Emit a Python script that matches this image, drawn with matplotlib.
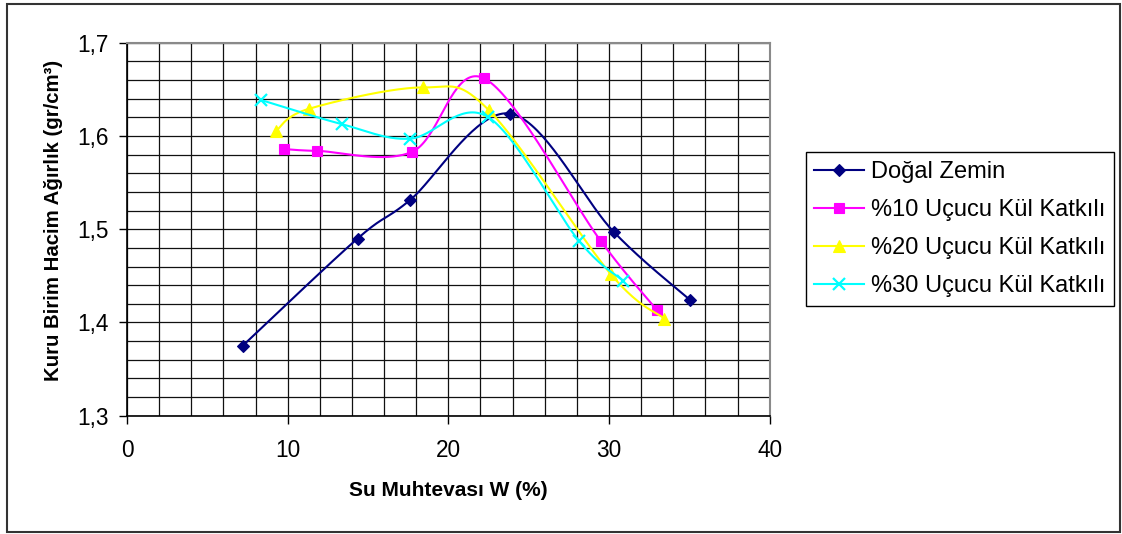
import numpy as np
import matplotlib
matplotlib.use("Agg")
import matplotlib.pyplot as plt
from matplotlib.ticker import MultipleLocator, FuncFormatter
from matplotlib.patches import Rectangle

plt.rcParams['font.family'] = ['Liberation Sans', 'DejaVu Sans']

# Compaction test results: water content (%) vs dry unit weight (gr/cm3)
x_dogal = [7.2, 14.35, 17.6, 23.85, 30.3, 35.05]
y_dogal = [1.375, 1.490, 1.531, 1.624, 1.497, 1.424]

x_10 = [9.75, 11.85, 17.75, 22.2, 29.5, 33.0]
y_10 = [1.586, 1.584, 1.583, 1.662, 1.487, 1.413]

x_20 = [9.25, 11.3, 18.4, 22.5, 30.1, 33.45]
y_20 = [1.605, 1.629, 1.652, 1.628, 1.452, 1.404]

x_30 = [8.35, 13.4, 17.6, 22.45, 28.15, 30.9]
y_30 = [1.6385, 1.6125, 1.597, 1.6205, 1.487, 1.4445]

labels = ["Doğal Zemin", "%10 Uçucu Kül Katkılı",
          "%20 Uçucu Kül Katkılı", "%30 Uçucu Kül Katkılı"]
colors = ["#000080", "#FF00FF", "#FFFF00", "#00FFFF"]
markers = ["D", "s", "^", "x"]
msizes = [6.6, 7.2, 8.6, 8.6]

xlabel = "Su Muhtevası W (%)"
ylabel = "Kuru Birim Hacim Ağırlık (gr/cm³)"


def smooth(x, y, n=40):
    """Bezier spline through the points (Catmull-Rom control points)."""
    P = np.column_stack([x, y]).astype(float)
    P = np.vstack([P[0], P, P[-1]])
    t = np.linspace(0, 1, n)[:, None]
    out = []
    for i in range(1, len(P) - 2):
        p0, p1, p2, p3 = P[i - 1], P[i], P[i + 1], P[i + 2]
        c1 = p1 + (p2 - p0) / 6.0
        c2 = p2 - (p3 - p1) / 6.0
        seg = ((1 - t) ** 3) * p1 + 3 * ((1 - t) ** 2) * t * c1 \
            + 3 * (1 - t) * t ** 2 * c2 + t ** 3 * p2
        out.append(seg if i == 1 else seg[1:])
    S = np.vstack(out)
    return S[:, 0], S[:, 1]


W, H = 1122, 534
fig = plt.figure(figsize=(W / 100, H / 100), dpi=100)
fig.patch.set_facecolor("white")

ax = fig.add_axes([127 / W, 1 - 415.7 / H, (769.7 - 127) / W, (415.7 - 42.7) / H])

series = [(x_dogal, y_dogal), (x_10, y_10), (x_20, y_20), (x_30, y_30)]
handles = []
for k, ((xs, ys), lab, c, m, ms) in enumerate(zip(series, labels, colors, markers, msizes)):
    sx, sy = smooth(xs, ys)
    ax.plot(sx, sy, color=c, lw=1.5, zorder=3 + 2 * k, solid_capstyle="round")
    mew = 1.6 if m == "x" else 0.8
    ax.plot(xs, ys, linestyle="none", marker=m, ms=ms, color=c,
            markeredgecolor=c, mew=mew, zorder=4 + 2 * k)
    h, = ax.plot([], [], color=c, lw=1.5, marker=m, ms=ms,
                 markeredgecolor=c, mew=mew, label=lab)
    handles.append(h)

ax.set_xlim(0, 40)
ax.set_ylim(1.3, 1.7)
ax.xaxis.set_major_locator(MultipleLocator(10))
ax.xaxis.set_minor_locator(MultipleLocator(2))
ax.yaxis.set_major_locator(MultipleLocator(0.1))
ax.yaxis.set_minor_locator(MultipleLocator(0.02))
ax.yaxis.set_major_formatter(FuncFormatter(lambda v, p: f"{v:.1f}".replace(".", ",")))
ax.xaxis.set_major_formatter(FuncFormatter(lambda v, p: f"{v:.0f}"))

ax.grid(True, which="both", color="#111111", lw=0.9)
ax.set_axisbelow(True)

ax.tick_params(axis="both", which="major", direction="out", length=6,
               width=1.0, color="black", labelsize=16.3)
ax.tick_params(axis="y", which="major", pad=7)
ax.tick_params(axis="x", which="major", pad=11)
ax.tick_params(axis="both", which="minor", length=0)

for side in ("left", "bottom"):
    ax.spines[side].set_color("black")
    ax.spines[side].set_linewidth(1.2)
for side in ("top", "right"):
    ax.spines[side].set_color("#8a8a8a")
    ax.spines[side].set_linewidth(1.5)

fig.text(448 / W, 1 - 491 / H, xlabel, ha="center", va="center",
         fontsize=15, fontweight="bold")
fig.text(54 / W, 1 - 220 / H, ylabel, ha="center", va="center",
         rotation=90, fontsize=14.7, fontweight="bold")

leg = fig.legend(handles=handles, loc="center",
                 bbox_to_anchor=(960 / W, 1 - 229 / H),
                 fontsize=17, frameon=True, fancybox=False, shadow=False,
                 framealpha=1, edgecolor="black", numpoints=1,
                 handlelength=2.1, handletextpad=0.3, labelspacing=0.68,
                 borderpad=0.38, borderaxespad=0)
leg.get_frame().set_linewidth(1.0)

# outer chart border
fig.patches.append(Rectangle((7 / W, 1 - 532 / H), (1120 - 7) / W, (532 - 4) / H,
                             transform=fig.transFigure, fill=False,
                             edgecolor="#333333", lw=1.5))

fig.savefig("out.png", dpi=100)
